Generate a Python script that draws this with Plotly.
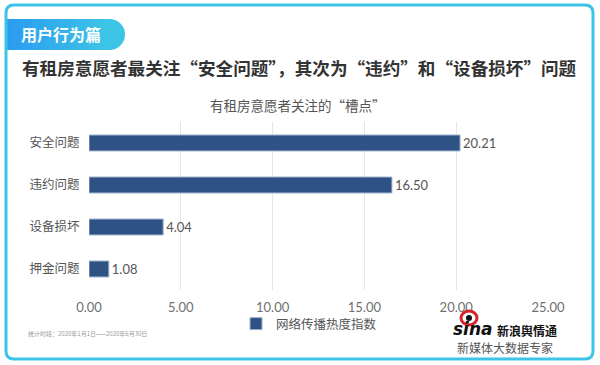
import plotly.graph_objects as go

categories = ["安全问题", "违约问题", "设备损坏", "押金问题"]
values = [20.21, 16.50, 4.04, 1.08]
x_ticks = [0, 5, 10, 15, 20, 25]
x_tick_labels = ["0.00", "5.00", "10.00", "15.00", "20.00", "25.00"]
series_name = "网络传播热度指数"

W, H = 600, 365
L, R, T, B = 89, 548, 122, 290  # plot area in pixels

def px(x):
    return (x - L) / (R - L)

def py(y):
    return (B - y) / (B - T)

CJK = "Noto Sans CJK SC"
NUM = "Lato, Noto Sans CJK SC"

fig = go.Figure()
fig.add_trace(go.Bar(
    y=categories, x=values, orientation="h", name=series_name,
    marker=dict(color="#2e5283", line=dict(color="#9fb3d1", width=1)),
    width=0.38,
    text=values, texttemplate="%{x:.2f}", textposition="outside",
    textfont=dict(family=NUM, size=13, color="#555555"),
    cliponaxis=False, showlegend=True,
))

shapes = []
x0, x1, y0, y1 = px(6), px(593), py(5), py(359)
rx = 8 / (R - L)
ry = 8 / (B - T)
path = (f"M {x0+rx},{y0} L {x1-rx},{y0} Q {x1},{y0} {x1},{y0-ry} "
        f"L {x1},{y1+ry} Q {x1},{y1} {x1-rx},{y1} L {x0+rx},{y1} "
        f"Q {x0},{y1} {x0},{y1+ry} L {x0},{y0-ry} Q {x0},{y0} {x0+rx},{y0} Z")

def mix(c1, c2, t):
    return "#%02x%02x%02x" % tuple(round(a + (b - a) * t) for a, b in zip(c1, c2))

c_left, c_right = (0x2a, 0x9c, 0xf0), (0x3c, 0xc4, 0xe6)
tab_l, tab_r, tab_t, tab_b, rad = 6, 125, 19, 50, 15.5
n = 24
flat_end = tab_r - rad
for i in range(n):
    sx0 = tab_l + (flat_end - tab_l) * i / n
    sx1 = tab_l + (flat_end - tab_l) * (i + 1) / n + 0.6
    shapes.append(dict(type="rect", xref="paper", yref="paper",
                       x0=px(sx0), x1=px(sx1), y0=py(tab_b), y1=py(tab_t),
                       line=dict(width=0), fillcolor=mix(c_left, c_right, i / (n - 1)), layer="below"))
shapes.append(dict(type="circle", xref="paper", yref="paper",
                   x0=px(tab_r - 2 * rad), x1=px(tab_r), y0=py(tab_b), y1=py(tab_t),
                   line=dict(width=0), fillcolor=mix(c_left, c_right, 1), layer="below"))
shapes.append(dict(type="path", xref="paper", yref="paper", path=path,
                   line=dict(color="#3cc3e8", width=3), fillcolor="rgba(0,0,0,0)", layer="below"))
shapes.append(dict(type="circle", xref="paper", yref="paper",
                   x0=px(461), x1=px(477), y0=py(325), y1=py(311),
                   line=dict(color="#d6262b", width=3), fillcolor="white"))
shapes.append(dict(type="circle", xref="paper", yref="paper",
                   x0=px(466), x1=px(472), y0=py(321), y1=py(315),
                   line=dict(width=0), fillcolor="#111111"))

def ann(text, x, y, xanchor, size, color, family=CJK):
    return dict(text=text, x=px(x), y=py(y), xref="paper", yref="paper",
                xanchor=xanchor, yanchor="middle", showarrow=False,
                font=dict(family=family, size=size, color=color))

annotations = [
    ann("<b>用户行为篇</b>", 19, 34, "left", 16, "white"),
    ann("<b>有租房意愿者最关注“安全问题”，其次为“违约”和“设备损坏”问题</b>", 20, 67, "left", 17.6, "#333333"),
    ann("有租房意愿者关注的“槽点”", 298, 105, "center", 13.5, "#555555"),
    ann("统计时段：2020年1月1日——2020年6月30日", 26, 333, "left", 6, "#999999"),
    ann("<b><i>sina</i></b>", 451, 329, "left", 17, "#111111", "DejaVu Sans"),
    ann("<b>新浪舆情通</b>", 495, 330, "left", 12, "#111111"),
    ann("新媒体大数据专家", 505, 347, "center", 12, "#555555"),
]

fig.update_layout(
    width=W, height=H,
    margin=dict(l=L, r=W - R, t=T, b=H - B, pad=0, autoexpand=False),
    paper_bgcolor="white", plot_bgcolor="white",
    xaxis=dict(range=[0, 25], tickvals=x_ticks, ticktext=x_tick_labels, automargin=False,
               showgrid=True, gridcolor="#e6e6e6", gridwidth=1, zeroline=False,
               showline=False, ticks="outside", ticklen=5, tickcolor="rgba(0,0,0,0)",
               tickfont=dict(family=NUM, size=13, color="#707070"), fixedrange=True),
    yaxis=dict(categoryorder="array", categoryarray=categories, automargin=False,
               range=[3.5, -0.5], showgrid=False, zeroline=False, showline=False,
               ticks="outside", ticklen=6, tickcolor="rgba(0,0,0,0)",
               tickfont=dict(family=CJK, size=12.5, color="#555555")),
    legend=dict(orientation="h", x=px(236), y=py(324), xanchor="left", yanchor="middle",
                font=dict(family=CJK, size=12.5, color="#555555"), bgcolor="rgba(0,0,0,0)",
                itemwidth=30),
    shapes=shapes, annotations=annotations,
)

fig.write_html("out.html", config={"displayModeBar": False},
               post_script="document.body.style.margin='0';")
